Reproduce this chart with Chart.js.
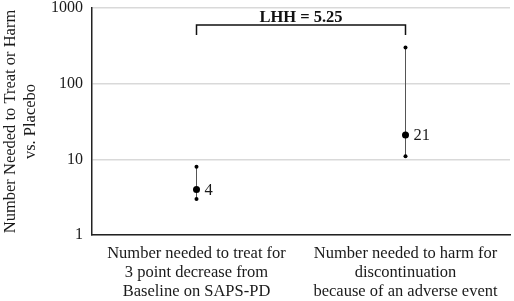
<!DOCTYPE html>
<html><head><meta charset="utf-8">
<script src="https://cdn.jsdelivr.net/npm/chart.js@4/dist/chart.umd.min.js"></script>
<style>html,body{margin:0;padding:0;background:#fff}#wrap{width:514px;height:301px}</style>
</head><body><div id="wrap"><canvas id="c" width="514" height="301"></canvas></div>
<script>
const categories = [
  ['Number needed to treat for','3 point decrease from','Baseline on SAPS-PD'],
  ['Number needed to harm for','discontinuation','because of an adverse event']
];
const values = [4, 21];
const lowerCI = [3, 11];
const upperCI = [8, 300];
const pointLabels = ['4', '21'];
const yTicks = [1, 10, 100, 1000];
const bracketText = 'LHH = 5.25';
const yTitle = ['Number Needed to Treat or Harm', 'vs. Placebo'];

const FONT = "'Liberation Serif', 'Times New Roman', serif";
const catIdx = categories.map((c, i) => i);

const errDatasets = catIdx.map(i => ({
  type: 'line',
  data: [{x: i, y: lowerCI[i]}, {x: i, y: upperCI[i]}],
  borderColor: '#555',
  borderWidth: 1,
  pointRadius: 2,
  pointBackgroundColor: '#000',
  pointBorderWidth: 0,
  showLine: true
}));

const mainDataset = {
  type: 'line',
  data: catIdx.map(i => ({x: i, y: values[i]})),
  showLine: false,
  pointRadius: 3.5,
  pointBackgroundColor: '#000',
  pointBorderWidth: 0
};

const annot = {
  id: 'annot',
  afterDatasetsDraw(chart) {
    const ctx = chart.ctx;
    const xs = chart.scales.x, ys = chart.scales.y;
    ctx.save();
    ctx.fillStyle = '#1a1a1a';
    ctx.font = '16.5px ' + FONT;
    ctx.textAlign = 'left';
    ctx.textBaseline = 'middle';
    catIdx.forEach(i => {
      ctx.fillText(pointLabels[i], xs.getPixelForValue(i) + 8, ys.getPixelForValue(values[i]) + 1);
    });
    const x0 = xs.getPixelForValue(0), x1 = xs.getPixelForValue(1);
    const top = chart.chartArea.top;
    const by = top + 17, bt = top + 27;
    ctx.strokeStyle = '#111';
    ctx.lineWidth = 1.5;
    ctx.beginPath();
    ctx.moveTo(x0, bt); ctx.lineTo(x0, by); ctx.lineTo(x1, by); ctx.lineTo(x1, bt);
    ctx.stroke();
    ctx.font = 'bold 16.5px ' + FONT;
    ctx.textAlign = 'center';
    ctx.textBaseline = 'alphabetic';
    ctx.fillStyle = '#111';
    ctx.fillText(bracketText, (x0 + x1) / 2, by - 3);
    ctx.restore();
  }
};

new Chart(document.getElementById('c'), {
  data: { datasets: [mainDataset, ...errDatasets] },
  options: {
    responsive: false,
    animation: false,
    layout: { padding: { left: 0, right: 1, top: 0, bottom: 0 } },
    plugins: { legend: { display: false }, tooltip: { enabled: false } },
    scales: {
      x: {
        type: 'linear',
        min: -0.5, max: 1.5,
        afterBuildTicks: s => { s.ticks = catIdx.map(v => ({value: v})); },
        ticks: {
          callback: (v) => categories[v] || '',
          font: { family: FONT, size: 16.5, lineHeight: 1.16 },
          color: '#1a1a1a',
          maxRotation: 0,
          autoSkip: false,
          padding: 9
        },
        grid: { display: false, drawTicks: false },
        border: { display: true, color: '#222', width: 1.5 },
        afterFit: s => { s.height = 66; s.paddingLeft = 0; s.paddingRight = 0; }
      },
      y: {
        type: 'logarithmic',
        min: 1, max: 1000,
        afterBuildTicks: s => { s.ticks = yTicks.map(v => ({value: v})); },
        ticks: {
          callback: (v) => String(v),
          font: { family: FONT, size: 16 },
          color: '#1a1a1a',
          padding: 9
        },
        grid: { color: '#d9d9d9', lineWidth: 1.5, drawTicks: false },
        border: { display: true, color: '#222', width: 1.5 },
        title: {
          display: true,
          text: yTitle,
          font: { family: FONT, size: 16.5, lineHeight: 1.25 },
          color: '#1a1a1a',
          padding: { top: 0, bottom: 0 }
        },
        afterFit: s => { s.width = 92; s.paddingTop = 8; s.paddingBottom = 0; }
      }
    }
  },
  plugins: [annot]
});
</script></body></html>
